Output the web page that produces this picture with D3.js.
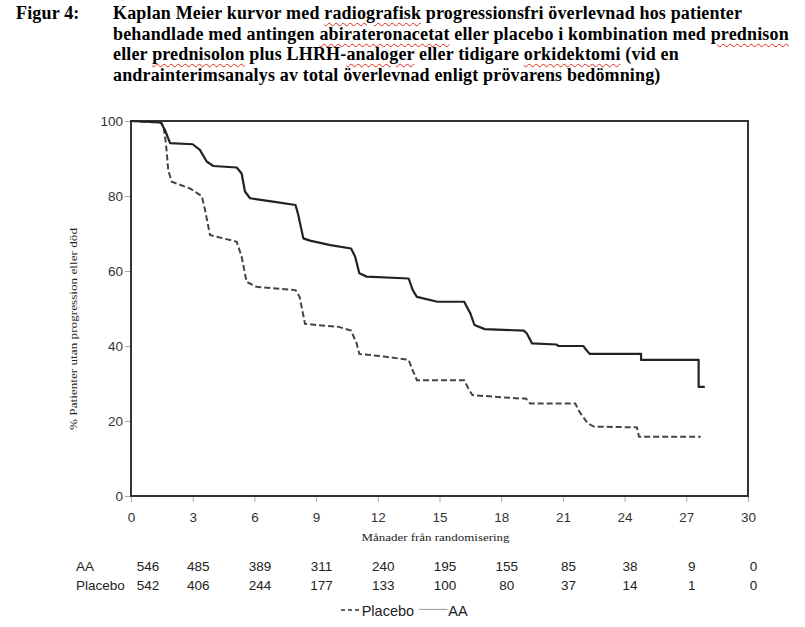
<!DOCTYPE html>
<html>
<head>
<meta charset="utf-8">
<script src="https://cdn.jsdelivr.net/npm/d3@7"></script>
<style>
  body { margin: 0; background: #fff; }
  #wrap { position: relative; width: 805px; height: 627px; overflow: hidden; }
  #title { position: absolute; left: 0; top: 3px; font: bold 18px "Liberation Serif", "Times New Roman", serif;
           line-height: 20.7px; color: #000; white-space: nowrap; letter-spacing: 0.16px; }
  #title .lbl { position: absolute; left: 16px; top: 0; }
  #title .lines { position: absolute; left: 113px; top: 0; }
  .sq { text-decoration: underline wavy #e3261c; text-decoration-thickness: 1px; text-underline-offset: 3px; }
  svg { position: absolute; left: 0; top: 0; }
</style>
</head>
<body>
<div id="wrap"></div>
<script>
// ---- data ----
var titleLabel = "Figur 4:";
var titleLines = [
  "Kaplan Meier kurvor med radiografisk progressionsfri överlevnad hos patienter",
  "behandlade med antingen abirateronacetat eller placebo i kombination med prednison",
  "eller prednisolon plus LHRH-analoger eller tidigare orkidektomi (vid en",
  "andrainterimsanalys av total överlevnad enligt prövarens bedömning)"
];
var spellWords = ["radiografisk", "abirateronacetat", "prednison", "prednisolon", "analoger", "orkidektomi"];

var monthTicks = [0, 3, 6, 9, 12, 15, 18, 21, 24, 27, 30];
var pctTicks = [0, 20, 40, 60, 80, 100];

var groups = ["AA", "Placebo"];
var aaRisk = [546, 485, 389, 311, 240, 195, 155, 85, 38, 9, 0];
var placeboRisk = [542, 406, 244, 177, 133, 100, 80, 37, 14, 1, 0];

// [month, % without progression or death]
var aaCurve = [
  [0, 100], [1.45, 99.6], [1.65, 97.6], [1.9, 94.1], [3.0, 93.8], [3.35, 92.3], [3.68, 89.2], [4.0, 88.0],
  [5.14, 87.6], [5.38, 86], [5.54, 81.2], [5.79, 79.4], [6.9, 78.5], [8.0, 77.6], [8.13, 75.0], [8.38, 68.7],
  [8.7, 68.1], [9.7, 66.9], [10.7, 66.0], [10.9, 63.8], [11.1, 59.4], [11.46, 58.5], [13.5, 58.0], [13.7, 54.9],
  [13.9, 53.1], [14.9, 51.8], [16.2, 51.8], [16.5, 48.7], [16.7, 45.6], [17.2, 44.5], [19.1, 44.1], [19.24, 43.4],
  [19.5, 40.7], [20.7, 40.4], [20.77, 40.0], [22.0, 40.0], [22.07, 39.4], [22.3, 37.9], [24.8, 37.9], [24.8, 36.3],
  [27.6, 36.3], [27.6, 29.1], [27.9, 29.1]
];
var placeboCurve = [
  [0, 100], [1.45, 99.6], [1.57, 98.9], [1.7, 94], [1.81, 86.9], [1.98, 83.8], [2.87, 82], [3.44, 80], [3.6, 76.3],
  [3.84, 69.6], [4.49, 68.7], [5.14, 67.8], [5.38, 63.8], [5.62, 57.1], [6.1, 55.8], [8.0, 54.9], [8.2, 53.1],
  [8.46, 45.9], [9.03, 45.6], [10.1, 45.1], [10.7, 44.1], [10.97, 40.7], [11.1, 37.9], [12.3, 37.2], [13.5, 36.3],
  [13.65, 34.1], [13.9, 30.9], [16.2, 30.9], [16.4, 28.7], [16.6, 26.9], [18.9, 26.0], [19.2, 26.0], [19.4, 24.7],
  [21.6, 24.7], [21.8, 22.5], [22.2, 19.4], [22.5, 18.5], [24.6, 18.3], [24.7, 15.8], [27.7, 15.8]
];

// ---- title (html so the spell-check squiggles can be shown) ----
var wrap = d3.select("#wrap");
var title = wrap.append("div").attr("id", "title");
title.append("div").attr("class", "lbl").text(titleLabel);
var lines = title.append("div").attr("class", "lines");
titleLines.forEach(function (line) {
  var div = lines.append("div");
  line.split(/(\s+|-)/).forEach(function (part) {
    if (part === "") return;
    div.append("span")
      .classed("sq", spellWords.indexOf(part) >= 0)
      .text(part);
  });
});

// ---- chart ----
var svg = wrap.append("svg")
  .attr("width", 805)
  .attr("height", 627);

var x = d3.scaleLinear().domain([0, 30]).range([131, 748]);
var y = d3.scaleLinear().domain([0, 100]).range([496, 121]);

var sans = "'Liberation Sans', Arial, sans-serif";
var serif = "'Liberation Serif', 'Times New Roman', serif";

var xAxis = svg.append("g")
  .attr("transform", "translate(0,496)")
  .call(d3.axisBottom(x).tickValues(monthTicks).tickSize(6).tickPadding(10));
var yAxis = svg.append("g")
  .attr("transform", "translate(131,0)")
  .call(d3.axisLeft(y).tickValues(pctTicks).tickSize(6).tickPadding(2));

[xAxis, yAxis].forEach(function (g) {
  g.select(".domain").remove();
  g.selectAll(".tick line").attr("stroke", "#aaa");
  g.selectAll(".tick text")
    .attr("fill", "#333")
    .style("font-family", sans)
    .style("font-size", "13.5px");
});

// frame
svg.append("rect")
  .attr("x", x(0))
  .attr("y", y(100))
  .attr("width", x(30) - x(0))
  .attr("height", y(0) - y(100))
  .attr("fill", "none")
  .attr("stroke", "#333")
  .attr("stroke-width", 2);

var line = d3.line()
  .x(function (d) { return x(d[0]); })
  .y(function (d) { return y(d[1]); });

svg.append("path")
  .datum(placeboCurve)
  .attr("d", line)
  .attr("fill", "none")
  .attr("stroke", "#444")
  .attr("stroke-width", 2)
  .attr("stroke-dasharray", "6,3");

svg.append("path")
  .datum(aaCurve)
  .attr("d", line)
  .attr("fill", "none")
  .attr("stroke", "#222")
  .attr("stroke-width", 2.2)
  .attr("stroke-linejoin", "round");

// axis titles
svg.append("text")
  .attr("x", 435.5)
  .attr("y", 540.5)
  .attr("text-anchor", "middle")
  .attr("textLength", 148)
  .attr("lengthAdjust", "spacingAndGlyphs")
  .style("font-family", serif)
  .style("font-size", "10.5px")
  .attr("fill", "#222")
  .text("Månader från randomisering");

svg.append("text")
  .attr("transform", "translate(77,329) rotate(-90)")
  .attr("text-anchor", "middle")
  .attr("textLength", 202)
  .attr("lengthAdjust", "spacingAndGlyphs")
  .style("font-family", serif)
  .style("font-size", "11px")
  .attr("fill", "#222")
  .text("% Patienter utan progression eller död");

// number at risk
function riskX(t) { return x(t) + (t === 0 ? 17 : 5.5); }
var riskRows = [aaRisk, placeboRisk];
riskRows.forEach(function (row, i) {
  var ry = 570.7 + i * 19.4;
  svg.append("text")
    .attr("x", 76)
    .attr("y", ry)
    .style("font-family", sans)
    .style("font-size", "13.5px")
    .attr("fill", "#222")
    .text(groups[i]);
  svg.append("g").selectAll("text")
    .data(row)
    .enter()
    .append("text")
      .attr("x", function (d, j) { return riskX(monthTicks[j]); })
      .attr("y", ry)
      .attr("text-anchor", "middle")
      .style("font-family", sans)
      .style("font-size", "13.5px")
      .attr("fill", "#222")
      .text(function (d) { return d; });
});

// legend
var lg = svg.append("g").attr("transform", "translate(0,615.7)");
lg.append("line")
  .attr("x1", 341).attr("x2", 360.5)
  .attr("y1", -5.7).attr("y2", -5.7)
  .attr("stroke", "#333")
  .attr("stroke-width", 1.3)
  .attr("stroke-dasharray", "4,3");
lg.append("text")
  .attr("x", 361.7)
  .style("font-family", sans)
  .style("font-size", "14.5px")
  .attr("fill", "#222")
  .text(groups[1]);
lg.append("line")
  .attr("x1", 419).attr("x2", 447.5)
  .attr("y1", -6.3).attr("y2", -6.3)
  .attr("stroke", "#999")
  .attr("stroke-width", 1);
lg.append("text")
  .attr("x", 448.3)
  .style("font-family", sans)
  .style("font-size", "14.5px")
  .attr("fill", "#222")
  .text(groups[0]);
</script>
</body>
</html>
